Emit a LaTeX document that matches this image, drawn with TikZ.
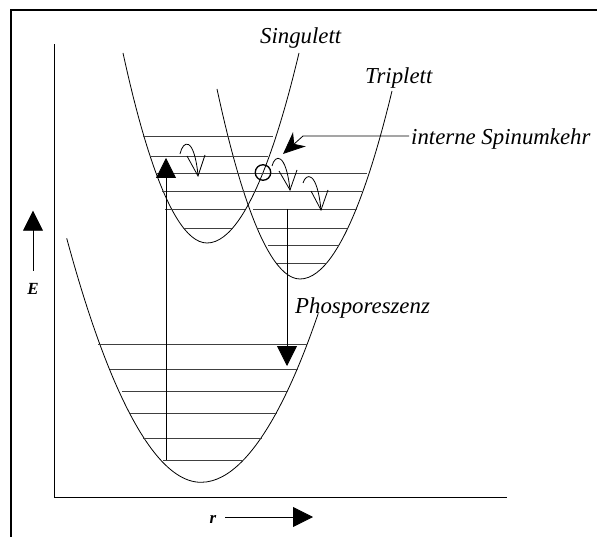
\documentclass[tikz,border=0pt]{standalone}
\usepackage{fontspec}
\setmainfont{Liberation Serif}
\usetikzlibrary{arrows.meta}
\begin{document}
\begin{tikzpicture}[x=1pt,y=-1pt,
  curve/.style={line width=0.8pt,black},
  level/.style={line width=0.8pt,black!75},
  bigtri/.style={-{Triangle[length=20pt,width=20pt]},line width=0.8pt},
  lbl/.style={inner sep=0pt,font=\fontsize{22.8}{27}\selectfont\itshape},
  axlbl/.style={inner sep=0pt,font=\fontsize{17}{20}\selectfont\bfseries\itshape},
  loop/.style={line width=0.8pt}]
\useasboundingbox (0,0) rectangle (597,537);
% frame
\draw[line width=2pt] (11,537) -- (11,10) -- (597,10);
% axes
\draw[line width=0.8pt] (54.3,44.5) -- (54.3,497.7) -- (507.4,497.7);
% potential curves
\draw[curve] (123,53) parabola bend (207,243) (299,53);
\draw[curve] (217,89) parabola bend (300,279) (392,91);
\draw[curve] (66.7,238.3) parabola bend (201,482.3) (318.3,313.3);
% singulett / triplett levels
\foreach \y/\a/\b in {136/143/273, 156/150/268, 173/156/367, 191/162/362,
  209/165/245, 209/253/357, 228/183/232, 228/258/347, 245/268/338, 263/277/327}
  \draw[level] (\a,\y) -- (\b,\y);
% ground levels
\foreach \y/\a/\b in {344/98/307, 369/110/298, 391/122/288, 413/130/277, 438/143/262, 460/163/243}
  \draw[level] (\a,\y) -- (\b,\y);
% excitation arrow
\coordinate (exA) at (166,460);
\coordinate (exB) at (166,158);
\draw[bigtri] (exA) -- (exB);
% phosphorescence arrow
\coordinate (phA) at (287,209);
\coordinate (phB) at (287,366);
\draw[bigtri] (phA) -- (phB);
% crossing circle
\node[draw,circle,line width=1.3pt,minimum size=15.5pt,inner sep=0pt] (isc) at (263,172.5) {};
% relaxation loops
\draw[loop] (180,154) .. controls (183,140) and (194,136) .. (198,175);
\draw[loop] (187,156) -- (198,176) -- (205,155);
\draw[loop] (272,166) .. controls (275,154) and (286,152) .. (290,190);
\draw[loop] (279,171) -- (290,190) -- (297,170);
\draw[loop] (303,183) .. controls (306,173) and (317,170) .. (321,210);
\draw[loop] (311,191) -- (321,210) -- (328,190);
% labels
\node[lbl,anchor=base west] (sing) at (260,43.5) {Singulett};
\node[lbl,anchor=base west] (trip) at (365,84) {Triplett};
\node[lbl,anchor=base west] (isk) at (411,145) {interne Spinumkehr};
\node[lbl,anchor=base west] (phos) at (295,313) {Phosporeszenz};
% leader to ISC
\coordinate (ldA) at (409,136);
\coordinate (ldB) at (303,136);
\coordinate (ldC) at (283,154);
\draw[line width=0.8pt,-{Stealth[length=22pt,width=19pt,inset=7pt]}] (ldA) -- (ldB) -- (ldC);
% axis labels
\node[axlbl,anchor=base] (E) at (33,295) {E};
\coordinate (eA) at (33,270.7);
\coordinate (eB) at (33,210.7);
\draw[bigtri] (eA) -- (eB);
\node[axlbl,anchor=base] (r) at (213,523) {r};
\coordinate (rA) at (225,517);
\coordinate (rB) at (313,517);
\draw[bigtri] (rA) -- (rB);
\end{tikzpicture}
\end{document}
